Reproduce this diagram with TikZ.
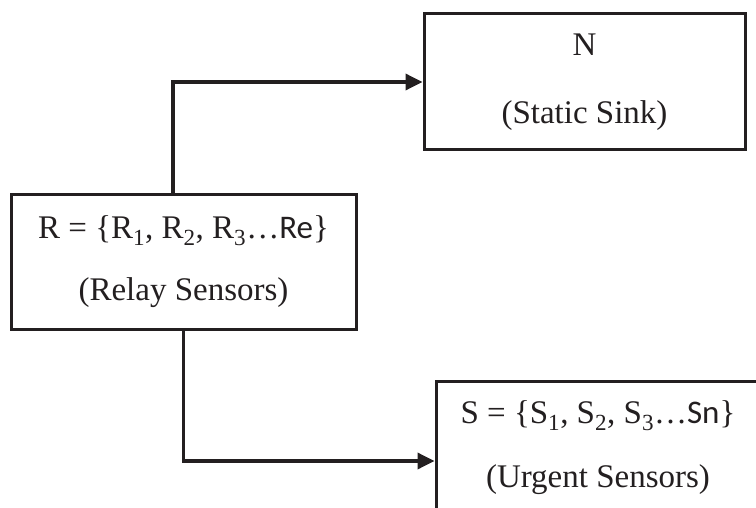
\documentclass[tikz,border=0pt]{standalone}
\usepackage{fontspec}
\setmainfont{Liberation Serif}
\newfontfamily\calibri{Carlito}
\usetikzlibrary{positioning, arrows.meta}
\definecolor{inkdark}{HTML}{231F20}

\begin{document}
\begin{tikzpicture}[
        x=1pt, y=-1pt,
        block/.style={draw=inkdark, rectangle, line width=3pt, align=center, inner sep=0pt,
            text=inkdark, font=\fontsize{33}{40}\selectfont},
        arrow/.style={-{Triangle[length=17pt, width=16pt]}, draw=inkdark, line width=3.5pt}
    ]
    \useasboundingbox (0,0) rectangle (756,508);
    \clip (0,0) rectangle (756,508);

    % Sink statico
    \node[block, minimum width=321pt, minimum height=136pt] (sink) at (584.5,82)
        {N\\[28pt](Static Sink)};

    % Sensori relay
    \node[block, minimum width=345pt, minimum height=134pt] (relay) at (183.5,262)
        {R = \{R\textsubscript{1}, R\textsubscript{2}, R\textsubscript{3}\dots{\calibri Re}\}\\[22pt](Relay Sensors)};

    % Sensori urgenti (tagliato dal bordo)
    \node[block, minimum width=324pt, minimum height=134pt] (urgent) at (598,448)
        {S = \{S\textsubscript{1}, S\textsubscript{2}, S\textsubscript{3}\dots{\calibri Sn}\}\\[24pt](Urgent Sensors)};

    % Collegamenti
    \draw[arrow] ([xshift=-10.5pt]relay.north) |- (sink.west);
    \draw[arrow] (relay.south) |- ([yshift=-13pt]urgent.west);

\end{tikzpicture}
\end{document}
